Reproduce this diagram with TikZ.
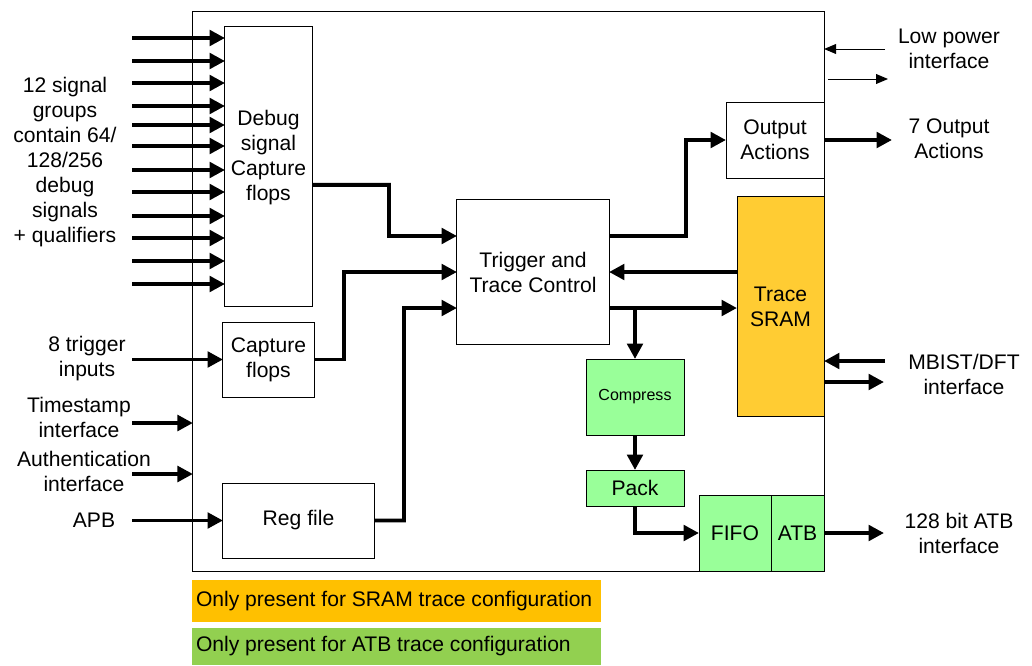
\documentclass[tikz,border=0pt]{standalone}
\usepackage{fontspec}
\setmainfont{Liberation Sans}
\usetikzlibrary{arrows.meta}

\definecolor{cffcc33}{RGB}{255,204,51}
\definecolor{c99ff99}{RGB}{153,255,153}
\definecolor{cffc000}{RGB}{255,192,0}
\definecolor{c92d050}{RGB}{146,208,80}
\def \globalscale {0.025}

\tikzset{
  blockbox/.style={draw=black, line width=0.7pt, align=center},
  srambox/.style={blockbox, fill=cffcc33},
  atbbox/.style={blockbox, fill=c99ff99},
  notebox/.style={anchor=north west, minimum width=10.225cm, inner xsep=0.1cm},
  busarrow/.style={line width=2.8pt, -{Triangle[length=11pt, width=11pt]}},
  thinarrow/.style={line width=0.7pt, -{Triangle[length=8.5pt, width=7pt]}}
}

\begin{document}
\begin{tikzpicture}[y=-\globalscale cm, x=\globalscale cm, inner sep=0pt, outer sep=0pt, every node/.append style={font=\fontsize{15}{17.8}\selectfont}]
  \useasboundingbox (0,0) rectangle (1032,665);

  % blocks
  \node[blockbox, minimum width=15.775cm, minimum height=13.975cm] (chip) at (508.5,291.5) {};

  \node[blockbox, minimum width=2.175cm, minimum height=6.975cm] (dbgflops) at (268.5,166.5) {Debug\\signal\\Capture\\flops\\[-0.08cm]};

  \node[blockbox, minimum width=2.275cm, minimum height=1.875cm] (capflops) at (268.5,359.5) {Capture\\flops};

  \node[blockbox, minimum width=3.775cm, minimum height=1.875cm] (regfile) at (298.5,520.5) {Reg file};

  \node[blockbox, minimum width=3.8cm, minimum height=3.6cm] (trigctl) at (533,272) {Trigger and\\Trace Control};

  \node[blockbox, minimum width=2.45cm, minimum height=1.9cm] (outact) at (775,140) {Output\\Actions};

  \node[srambox, minimum width=2.175cm, minimum height=5.475cm] (sram) at (780.5,306.5) {Trace\\SRAM};

  \node[atbbox, minimum width=2.45cm, minimum height=1.9cm, font=\fontsize{11.4}{13}\selectfont] (compress) at (635,397) {Compress};

  \node[atbbox, minimum width=2.45cm, minimum height=0.9cm] (pack) at (635,488) {Pack};

  \node[atbbox, minimum width=1.8cm, minimum height=1.9cm] (fifo) at (735,533) {FIFO};

  \node[atbbox, minimum width=1.325cm, minimum height=1.9cm] (atb) at (797.5,533) {ATB};

  % legend
  \node[notebox, fill=cffc000, minimum height=1.05cm] (sramnote) at (192,580) {\makebox[10.025cm][l]{Only present for SRAM trace configuration}};

  \node[notebox, fill=c92d050, minimum height=0.925cm] (atbnote) at (192,628) {\makebox[10.025cm][l]{Only present for ATB trace configuration}};

  % outside labels
  \node[align=center] (siglbl) at (65,162) {12 signal\\groups\\contain 64/\\128/256\\debug\\signals\\+ qualifiers};

  \node[align=center] (triglbl) at (87,359) {8 trigger\\inputs};

  \node[align=center] (tslbl) at (79,417) {Timestamp\\interface};

  \node[align=center] (authlbl) at (84,471.5) {Authentication\\interface};

  \node (apblbl) at (94,520) {APB};

  \node[align=center] (lplbl) at (949,49) {Low power\\interface};

  \node[align=center] (outlbl) at (949,139) {7 Output\\Actions};

  \node[align=center] (mbistlbl) at (964,374) {MBIST/DFT\\interface};

  \node[align=center] (atblbl) at (959,533) {128 bit ATB\\interface};

  % inputs
  \foreach \yy [count=\i] in {38,61,83,106,125,146,170,192,216,238,261,284} {
    \coordinate (sig\i) at (132,\yy);
    \draw[busarrow] (sig\i) -- (sig\i -| dbgflops.west);
  }

  \coordinate (trigin) at (132,359.5);
  \draw[busarrow] (trigin) -- (capflops.west);

  \coordinate (tsin) at (132,423);
  \draw[busarrow] (tsin) -- (tsin -| chip.west);

  \coordinate (authin) at (132,474);
  \draw[busarrow] (authin) -- (authin -| chip.west);

  \coordinate (apbin) at (132,520.5);
  \draw[busarrow] (apbin) -- (regfile.west);

  % into trigger and trace control
  \draw[busarrow] ([yshift=-0.46cm]dbgflops.east) -| (389,236) -- ([yshift=0.9cm]trigctl.west);

  \draw[busarrow] (capflops.east) -| (344,272) -- (trigctl.west);

  \draw[busarrow] (regfile.east) -| (404,308) -- ([yshift=-0.9cm]trigctl.west);

  % out of trigger and trace control
  \coordinate (toout) at ([yshift=0.9cm]trigctl.east);
  \draw[busarrow] (toout) -| (686,140) -- (outact.west);

  \draw[busarrow] (sram.west |- trigctl.east) -- (trigctl.east);

  \coordinate (tosram) at ([yshift=-0.9cm]trigctl.east);
  \draw[busarrow] (tosram) -- (tosram -| sram.west);

  \draw[busarrow] (tosram -| compress.north) -- (compress.north);

  \draw[busarrow] (compress.south) -- (pack.north);

  \draw[busarrow] (pack.south) |- (fifo.west);

  % outputs
  \coordinate (outactout) at (892,140);
  \draw[busarrow] (outact.east) -- (outactout);

  \coordinate (lpin) at (885,49);
  \draw[thinarrow] (lpin) -- (lpin -| chip.east);

  \coordinate (lpa) at (828,79);
  \coordinate (lpb) at (888,79);
  \draw[thinarrow] (lpa) -- (lpb);

  \coordinate (mbistin) at (885,361);
  \draw[busarrow] (mbistin) -- (mbistin -| sram.east);

  \coordinate (mbistout) at (884,382);
  \draw[busarrow] (mbistout -| sram.east) -- (mbistout);

  \coordinate (atbout) at (884,533);
  \draw[busarrow] (atb.east) -- (atbout);

\end{tikzpicture}
\end{document}
